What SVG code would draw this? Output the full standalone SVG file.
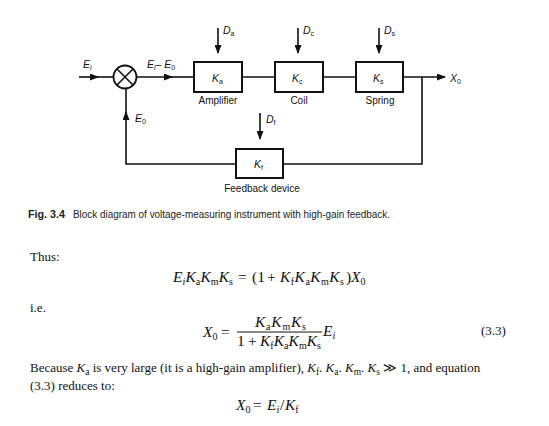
<svg xmlns="http://www.w3.org/2000/svg" width="549" height="426" viewBox="0 0 549 426">
<style>
.blk{fill:#fff;stroke:#111;stroke-width:2}
.ln{fill:none;stroke:#111;stroke-width:1.6}
.lb{font-family:"Liberation Sans",Arial,sans-serif;font-size:10.5px;fill:#111}
.v{font-style:italic}
.sb{font-size:7px}
.nm{font-family:"Liberation Sans",Arial,sans-serif;font-size:10px;fill:#111;text-anchor:middle}
.cap{font-family:"Liberation Sans",Arial,sans-serif;font-size:10px;fill:#222}
.t{font-family:"Liberation Serif","Times New Roman",serif;font-size:13px;fill:#111}
.m{font-family:"Liberation Serif","Times New Roman",serif;font-size:15.5px;fill:#111}
.i{font-style:italic}
.s{font-size:10px}
.ts{font-size:9.5px}
</style>
<defs>
<marker id="ah" markerWidth="9" markerHeight="7" refX="8" refY="3.5" orient="auto" markerUnits="userSpaceOnUse">
<path d="M0,0 L9,3.5 L0,7 z" fill="#111"/>
</marker>
</defs>
<rect width="549" height="426" fill="#fff"/>

<g id="connectors">
<path class="ln" d="M79,77 H98" marker-end="url(#ah)"/>
<path class="ln" d="M96,77 H113.5"/>
<path class="ln" d="M136.5,77 H172" marker-end="url(#ah)"/>
<path class="ln" d="M170,77 H194"/>
<path class="ln" d="M242,77 H275"/>
<path class="ln" d="M323,77 H356"/>
<path class="ln" d="M403,77 H445" marker-end="url(#ah)"/>
<path class="ln" d="M422,77 V164 H283"/>
<path class="ln" d="M236,164 H126 V112" marker-end="url(#ah)"/>
<path class="ln" d="M126,114 V88.5"/>
<path class="ln" d="M218,28 V53" marker-end="url(#ah)"/>
<path class="ln" d="M298,28 V53" marker-end="url(#ah)"/>
<path class="ln" d="M379,28 V53" marker-end="url(#ah)"/>
<path class="ln" d="M260,113 V139" marker-end="url(#ah)"/>
</g>

<g id="sum">
<circle cx="125" cy="77" r="11.5" fill="#fff" stroke="#111" stroke-width="1.8"/>
<path class="ln" d="M117,69 L133,85 M133,69 L117,85"/>
</g>

<g id="amplifier">
<rect class="blk" x="194" y="62" width="48" height="30"/>
<text class="lb" x="212" y="82"><tspan class="v">K</tspan><tspan class="sb" dy="2">a</tspan></text>
<text class="nm" x="218" y="104">Amplifier</text>
</g>
<g id="coil">
<rect class="blk" x="275" y="62" width="48" height="30"/>
<text class="lb" x="292" y="82"><tspan class="v">K</tspan><tspan class="sb" dy="2">c</tspan></text>
<text class="nm" x="299" y="104">Coil</text>
</g>
<g id="spring">
<rect class="blk" x="356" y="62" width="47" height="30"/>
<text class="lb" x="373" y="82"><tspan class="v">K</tspan><tspan class="sb" dy="2">s</tspan></text>
<text class="nm" x="380" y="104">Spring</text>
</g>
<g id="feedback">
<rect class="blk" x="236" y="149" width="47" height="29"/>
<text class="lb" x="254" y="168"><tspan class="v">K</tspan><tspan class="sb" dy="2">f</tspan></text>
<text class="nm" x="262" y="192">Feedback device</text>
</g>

<g id="labels">
<text class="lb" x="83" y="68"><tspan class="v">E</tspan><tspan class="sb v" dy="2">i</tspan></text>
<text class="lb" x="147" y="68"><tspan class="v">E</tspan><tspan class="sb v" dy="2">i</tspan><tspan dy="-2">– </tspan><tspan class="v">E</tspan><tspan class="sb" dy="2">0</tspan></text>
<text class="lb" x="223" y="34"><tspan class="v">D</tspan><tspan class="sb" dy="2">a</tspan></text>
<text class="lb" x="303" y="34"><tspan class="v">D</tspan><tspan class="sb" dy="2">c</tspan></text>
<text class="lb" x="384" y="34"><tspan class="v">D</tspan><tspan class="sb" dy="2">s</tspan></text>
<text class="lb" x="266" y="123"><tspan class="v">D</tspan><tspan class="sb" dy="2">f</tspan></text>
<text class="lb" x="135" y="122"><tspan class="v">E</tspan><tspan class="sb" dy="2">0</tspan></text>
<text class="lb" x="450" y="82"><tspan class="v">X</tspan><tspan class="sb" dy="2">0</tspan></text>
</g>

<g id="caption">
<text class="cap" x="28" y="218" font-weight="bold" textLength="37" lengthAdjust="spacingAndGlyphs">Fig. 3.4</text>
<text class="cap" x="73" y="218" textLength="317" lengthAdjust="spacingAndGlyphs">Block diagram of voltage-measuring instrument with high-gain feedback.</text>
</g>

<g id="text">
<text class="t" x="30" y="261">Thus:</text>
<text class="m" x="173" y="282" textLength="60" lengthAdjust="spacing"><tspan class="i">E</tspan><tspan class="s i" dy="3">i</tspan><tspan class="i" dy="-3">K</tspan><tspan class="s" dy="3">a</tspan><tspan class="i" dy="-3">K</tspan><tspan class="s" dy="3">m</tspan><tspan class="i" dy="-3">K</tspan><tspan class="s" dy="3">s</tspan></text>
<text class="m" x="238" y="282">=</text>
<text class="m" x="252" y="282">(1</text>
<text class="m" x="267" y="282">+</text>
<text class="m" x="280" y="282" textLength="64" lengthAdjust="spacing"><tspan class="i">K</tspan><tspan class="s" dy="3">f</tspan><tspan class="i" dy="-3">K</tspan><tspan class="s" dy="3">a</tspan><tspan class="i" dy="-3">K</tspan><tspan class="s" dy="3">m</tspan><tspan class="i" dy="-3">K</tspan><tspan class="s" dy="3">s</tspan></text>
<text class="m" x="346" y="282">)</text>
<text class="m" x="351" y="282"><tspan class="i">X</tspan><tspan class="s" dy="3">0</tspan></text>

<text class="t" x="30" y="312">i.e.</text>
<text class="m" x="203" y="337"><tspan class="i">X</tspan><tspan class="s" dy="3">0</tspan></text>
<text class="m" x="221" y="337">=</text>
<text class="m" x="255" y="327" textLength="51" lengthAdjust="spacing"><tspan class="i">K</tspan><tspan class="s" dy="3">a</tspan><tspan class="i" dy="-3">K</tspan><tspan class="s" dy="3">m</tspan><tspan class="i" dy="-3">K</tspan><tspan class="s" dy="3">s</tspan></text>
<line x1="237" y1="332" x2="322" y2="332" stroke="#111" stroke-width="1"/>
<text class="m" x="237" y="346">1</text>
<text class="m" x="248" y="346">+</text>
<text class="m" x="260" y="346" textLength="61" lengthAdjust="spacing"><tspan class="i">K</tspan><tspan class="s" dy="3">f</tspan><tspan class="i" dy="-3">K</tspan><tspan class="s" dy="3">a</tspan><tspan class="i" dy="-3">K</tspan><tspan class="s" dy="3">m</tspan><tspan class="i" dy="-3">K</tspan><tspan class="s" dy="3">s</tspan></text>
<text class="m" x="323" y="336"><tspan class="i">E</tspan><tspan class="s i" dy="3">i</tspan></text>
<text class="t" x="481" y="335">(3.3)</text>

<text class="t" x="30" y="372">Because <tspan class="i">K</tspan><tspan class="ts" dy="3">a</tspan><tspan dy="-3"> is very large (it is a high-gain amplifier), </tspan><tspan class="i">K</tspan><tspan class="ts" dy="3">f</tspan><tspan dy="-3">. </tspan><tspan class="i">K</tspan><tspan class="ts" dy="3">a</tspan><tspan dy="-3">. </tspan><tspan class="i">K</tspan><tspan class="ts" dy="3">m</tspan><tspan dy="-3">. </tspan><tspan class="i">K</tspan><tspan class="ts" dy="3">s</tspan><tspan dy="-3"> ≫ 1, and equation</tspan></text>
<text class="t" x="30" y="390">(3.3) reduces to:</text>

<text class="m" x="236" y="410"><tspan class="i">X</tspan><tspan class="s" dy="3">0</tspan></text>
<text class="m" x="253" y="410">=</text>
<text class="m" x="267" y="410"><tspan class="i">E</tspan><tspan class="s i" dy="3">i</tspan></text>
<text class="m" x="280" y="410">/</text>
<text class="m" x="285" y="410"><tspan class="i">K</tspan><tspan class="s" dy="3">f</tspan></text>
</g>
</svg>
